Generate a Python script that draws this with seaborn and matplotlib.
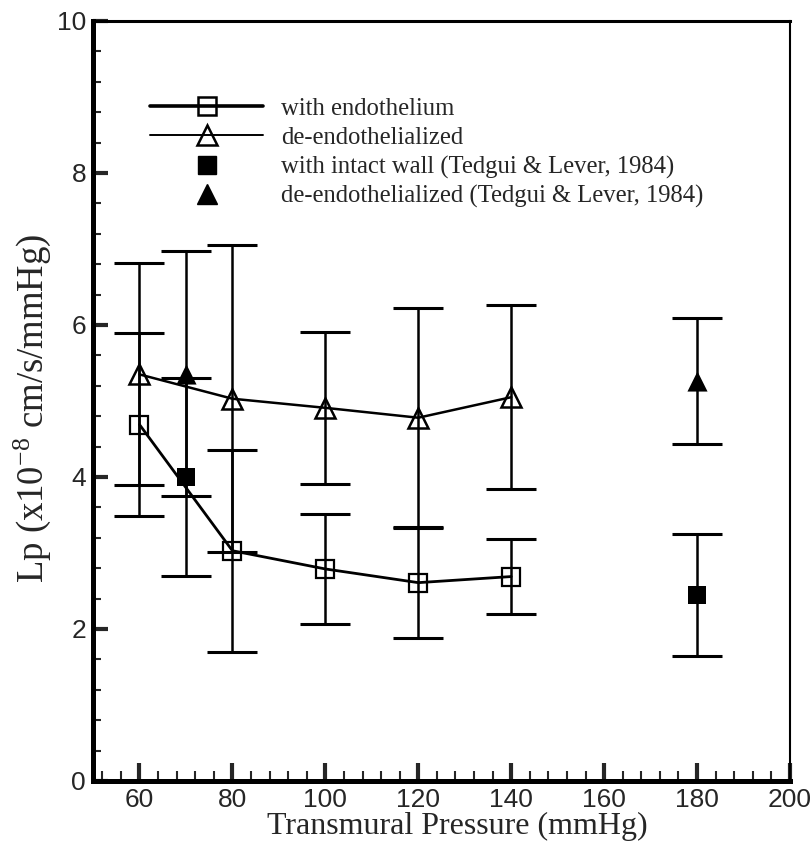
import matplotlib
matplotlib.use("Agg")
import matplotlib.pyplot as plt
import seaborn as sns
import pandas as pd
from matplotlib.lines import Line2D
from matplotlib.ticker import MultipleLocator

# ---- data ----
pressure = [60, 80, 100, 120, 140]
lp_endo = [4.69, 3.03, 2.79, 2.61, 2.69]
err_endo = [1.20, 1.33, 0.72, 0.73, 0.49]
lp_deendo = [5.35, 5.03, 4.91, 4.78, 5.05]
err_deendo = [1.46, 2.02, 1.00, 1.45, 1.21]

tedgui_pressure = [70, 180]
lp_tedgui_intact = [4.00, 2.45]
err_tedgui_intact = [1.30, 0.80]
lp_tedgui_deendo = [5.36, 5.26]
err_tedgui_deendo = [1.61, 0.83]

labels = ["with endothelium", "de-endothelialized",
          "with intact wall (Tedgui & Lever, 1984)",
          "de-endothelialized (Tedgui & Lever, 1984)"]

sns.set_style("ticks")
plt.rcParams["font.family"] = ["Liberation Sans", "DejaVu Sans"]
plt.rcParams["mathtext.fontset"] = "custom"
plt.rcParams["mathtext.rm"] = "Liberation Serif"
plt.rcParams["mathtext.it"] = "Liberation Serif:italic"
plt.rcParams["mathtext.bf"] = "Liberation Serif:bold"

fig = plt.figure(figsize=(8.12, 8.5), dpi=100)
ax = fig.add_axes([93 / 812, 1 - 781 / 850, (790 - 93) / 812, (781 - 21) / 850])

df_endo = pd.DataFrame({"p": pressure, "lp": lp_endo})
df_deendo = pd.DataFrame({"p": pressure, "lp": lp_deendo})
df_ti = pd.DataFrame({"p": tedgui_pressure, "lp": lp_tedgui_intact})
df_td = pd.DataFrame({"p": tedgui_pressure, "lp": lp_tedgui_deendo})

capsize = 18
ebkw = dict(fmt="none", ecolor="black", elinewidth=1.8, capsize=capsize, capthick=2.2, zorder=2)
ax.errorbar(pressure, lp_endo, yerr=err_endo, **ebkw)
ax.errorbar(pressure, lp_deendo, yerr=err_deendo, **ebkw)
ax.errorbar(tedgui_pressure, lp_tedgui_intact, yerr=err_tedgui_intact, **ebkw)
ax.errorbar(tedgui_pressure, lp_tedgui_deendo, yerr=err_tedgui_deendo, **ebkw)

sns.lineplot(data=df_endo, x="p", y="lp", ax=ax, color="black", lw=2.0,
             marker="s", markersize=13, markerfacecolor="none",
             markeredgecolor="black", markeredgewidth=1.6, zorder=3)
sns.lineplot(data=df_deendo, x="p", y="lp", ax=ax, color="black", lw=1.8,
             marker="^", markersize=14, markerfacecolor="none",
             markeredgecolor="black", markeredgewidth=1.8, zorder=3)
sns.scatterplot(data=df_ti, x="p", y="lp", ax=ax, color="black", marker="s",
                s=170, edgecolor="black", linewidth=0, zorder=4)
sns.scatterplot(data=df_td, x="p", y="lp", ax=ax, color="black", marker="^",
                s=210, edgecolor="black", linewidth=0, zorder=4)

ax.set_xlim(50, 200)
ax.set_ylim(0, 10)
ax.xaxis.set_major_locator(MultipleLocator(20))
ax.xaxis.set_minor_locator(MultipleLocator(4))
ax.yaxis.set_major_locator(MultipleLocator(2))
ax.yaxis.set_minor_locator(MultipleLocator(0.4))
ax.set_xticks([60, 80, 100, 120, 140, 160, 180, 200])
ax.tick_params(which="major", direction="in", width=3, labelsize=19,
               top=False, right=False, pad=5)
ax.tick_params(axis="x", which="major", length=13)
ax.tick_params(axis="y", which="major", length=11)
ax.tick_params(which="minor", direction="in", width=1.5,
               top=False, right=False)
ax.tick_params(axis="x", which="minor", length=7)
ax.tick_params(axis="y", which="minor", length=6)

for side, w in {"left": 3.6, "bottom": 3.6, "top": 2.2, "right": 1.5}.items():
    ax.spines[side].set_visible(True)
    ax.spines[side].set_linewidth(w)
    ax.spines[side].set_color("black")

serif = ["Liberation Serif", "DejaVu Serif"]
ax.set_xlabel("Transmural Pressure (mmHg)", fontsize=23, family=serif)
ax.set_ylabel(r"Lp (x10$^{\mathrm{-8}}$ cm/s/mmHg)", fontsize=26.5, family=serif)
ax.xaxis.set_label_coords(0.522, -0.041)
ax.xaxis.label.set_va("top")
ax.yaxis.set_label_coords(-0.058, 0.49)

handles = [
    Line2D([], [], color="black", lw=2.6, marker="s", markersize=13,
           markerfacecolor="none", markeredgewidth=1.8),
    Line2D([], [], color="black", lw=1.4, marker="^", markersize=14,
           markerfacecolor="none", markeredgewidth=1.8),
    Line2D([], [], color="black", lw=0, marker="s", markersize=13),
    Line2D([], [], color="black", lw=0, marker="^", markersize=14),
]
leg = ax.legend(handles, labels, loc="upper left", bbox_to_anchor=(0.082, 0.899),
                frameon=False, handlelength=4.6, handletextpad=0.73,
                labelspacing=0.27, borderpad=0.0, borderaxespad=0.0,
                prop={"family": serif, "size": 17.7})

fig.savefig("out.png", dpi=100)
